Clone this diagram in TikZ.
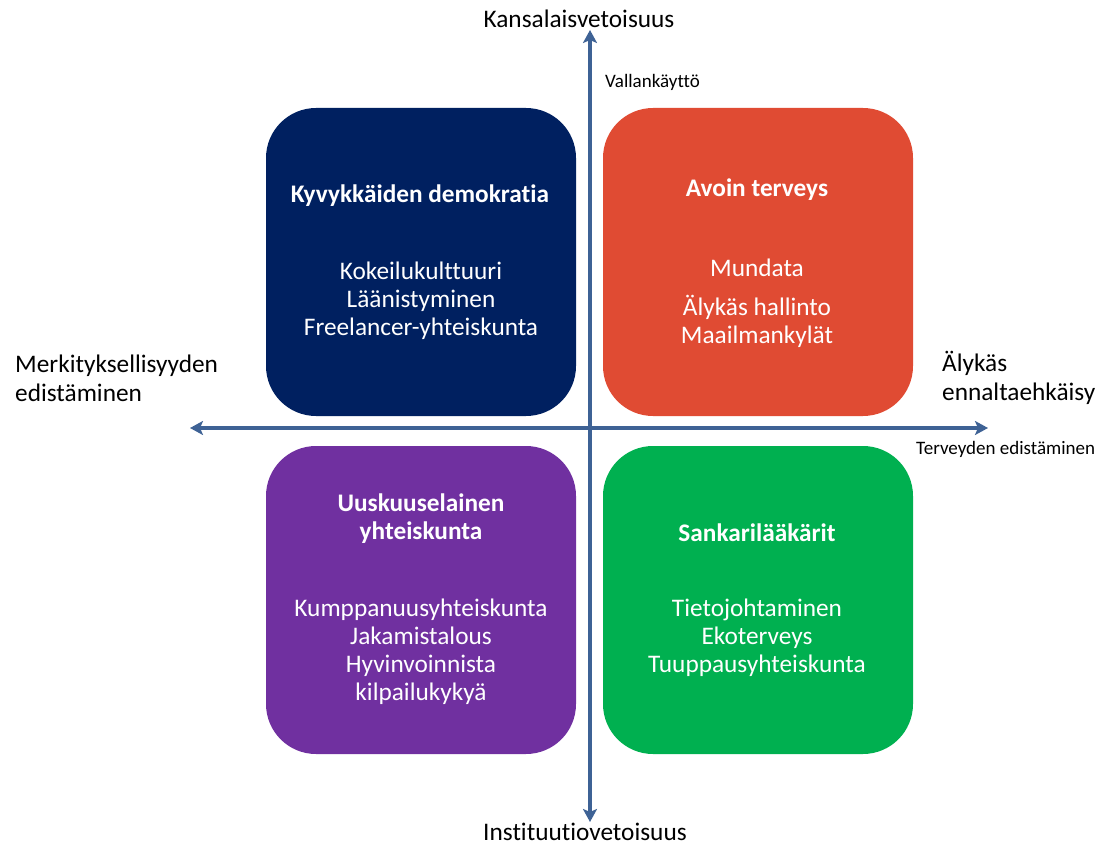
\documentclass[tikz,border=0pt]{standalone}
\usepackage{fontspec}
\setmainfont[Ligatures=NoCommon]{Carlito}
\usetikzlibrary{arrows.meta}
\definecolor{axisblue}{HTML}{3E6295}
\definecolor{navybox}{HTML}{002060}
\definecolor{orangebox}{HTML}{E04B33}
\definecolor{purplebox}{HTML}{7030A0}
\definecolor{greenbox}{HTML}{00B050}
\tikzset{
  quad/.style={rounded corners=50pt, minimum width=310pt, minimum height=308pt, inner sep=0pt, draw=none},
  boxtext/.style={text=white, align=center, inner sep=0pt, font=\fontsize{25.3}{28}\selectfont},
  axislabel/.style={font=\fontsize{25.3}{29}\selectfont, align=left, inner sep=0pt},
  smalllabel/.style={font=\fontsize{19}{22}\selectfont, inner sep=0pt},
  axisarrow/.style={draw=axisblue, line width=4.5pt, {Stealth[length=13pt,width=14pt,inset=3pt]}-{Stealth[length=13pt,width=14pt,inset=3pt]}}
}
\begin{document}
\begin{tikzpicture}[x=1pt,y=-1pt]
\useasboundingbox (0,0) rectangle (1106,845);

% quadrant panels
\node[quad, fill=navybox]   (tl) at (421,262) {};
\node[quad, fill=orangebox] (tr) at (758,262) {};
\node[quad, fill=purplebox] (bl) at (421,600) {};
\node[quad, fill=greenbox]  (br) at (758,600) {};

% axes
\coordinate (top) at (590,30);
\coordinate (bottom) at (590,822);
\coordinate (left) at (190,428);
\coordinate (right) at (988,428);
\draw[axisarrow] (bottom) -- (top);
\draw[axisarrow] (left) -- (right);

% axis labels
\node[axislabel, anchor=center] (kansa) at (579,19) {Kansalaisvetoisuus};
\node[axislabel, anchor=center] (inst) at (585,832) {Instituutiovetoisuus};
\node[axislabel, anchor=west] (merk) at (15,378) {Merkityksellisyyden\\edistäminen};
\node[axislabel, anchor=west] (alyk) at (942,378) {Älykäs\\ennaltaehkäisy};
\node[smalllabel, anchor=west] (vallan) at (605,82) {Vallankäyttö};
\node[smalllabel, anchor=west] (terv) at (916,449) {Terveyden edistäminen};

% panel texts
\node[boxtext] (tlh) at (420,196) {\textbf{Kyvykkäiden demokratia}};
\node[boxtext] (tlb) at (421,301) {Kokeilukulttuuri\\Läänistyminen\\Freelancer-yhteiskunta};

\node[boxtext] (trh) at (757,190) {\textbf{Avoin terveys}};
\node[boxtext] (trb1) at (757,268) {Mundata};
\node[boxtext] (trb2) at (757,321) {Älykäs hallinto\\Maailmankylät};

\node[boxtext] (blh) at (421,519) {\textbf{Uuskuuselainen}\\\textbf{yhteiskunta}};
\node[boxtext] (blb) at (421,652) {Kumppanuusyhteiskunta\\Jakamistalous\\Hyvinvoinnista\\kilpailukykyä};

\node[boxtext] (brh) at (757,533) {\textbf{Sankarilääkärit}};
\node[boxtext] (brb) at (757,638) {Tietojohtaminen\\Ekoterveys\\Tuuppausyhteiskunta};
\end{tikzpicture}
\end{document}
